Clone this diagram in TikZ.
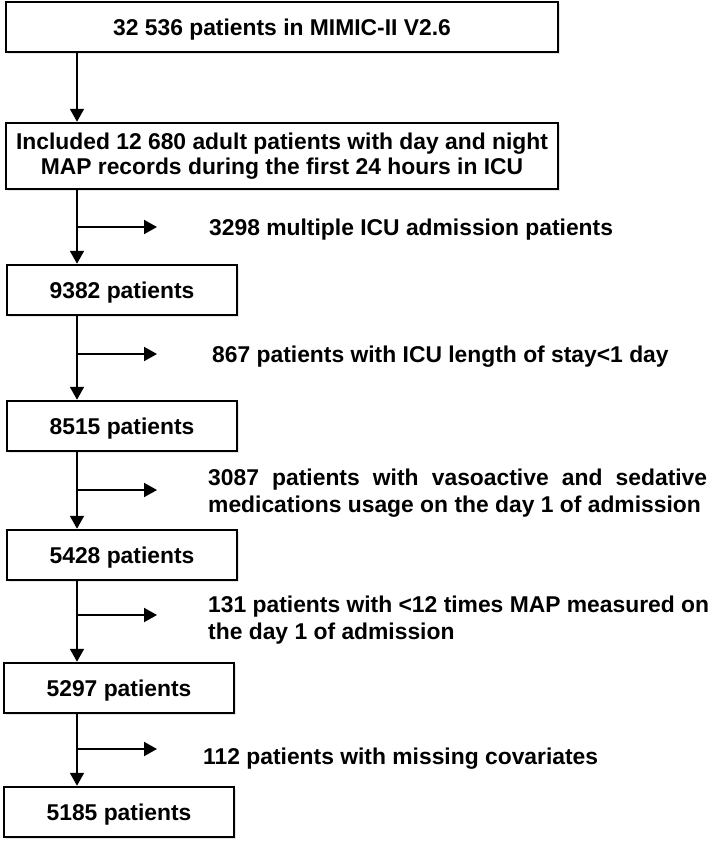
\documentclass[tikz,border=0pt]{standalone}
\usepackage{fontspec}
\setmainfont{Liberation Sans}
\usetikzlibrary{positioning, arrows.meta, shadows}

\begin{document}
\begin{tikzpicture}
        [
            x=1pt, y=-1pt,
            every node/.style={font=\fontsize{22.85}{26.5}\selectfont\bfseries},
            frame/.style={draw, fill=white, line width=2.5pt, inner sep=0pt,
                minimum width=230pt, minimum height=50pt,
                drop shadow={shadow xshift=2pt, shadow yshift=-2pt, opacity=0.2}},
            box/.style={frame, text height=16.4pt, text depth=0pt},
            wide box/.style={box, minimum width=552pt},
            note/.style={anchor=west, align=left, inner sep=0pt},
            flow/.style={line width=2pt, -{Triangle[length=13pt, width=14pt]}},
        ]
        \useasboundingbox (0,0) rectangle (709,847);
        % boxes
        \node[wide box] (all) at (282,27) {32 536 patients in MIMIC-II V2.6};
        \node[frame, minimum width=552pt, minimum height=66pt, align=center] (incl) at (282,156)
            {\raisebox{-2pt}{Included 12 680 adult patients with day and night}\\MAP records during the first 24 hours in ICU};
        \node[box] (p9382) at (122,290) {9382 patients};
        \node[box] (p8515) at (122,426) {8515 patients};
        \node[box] (p5428) at (122,555) {5428 patients};
        \node[box] (p5297) at (119,688) {5297 patients};
        \node[box] (p5185) at (119,812) {5185 patients};
        % exclusions
        \node[note] (x3298) at (209,230) {3298 multiple ICU admission patients};
        \node[note] (x867) at (212,357) {867 patients with ICU length of stay<1 day};
        \node[note] (x3087) at (208,493)
            {\makebox[499pt][s]{3087 patients with vasoactive and sedative}\\medications usage on the day 1 of admission};
        \node[note] (x131) at (208,620)
            {131 patients with <12 times MAP measured on\\the day 1 of admission};
        \node[note] (x112) at (203,759) {112 patients with missing covariates};
        % spine and branch points
        \coordinate (spine) at (77,0);
        \coordinate (e1) at (157,227);
        \coordinate (e2) at (157,354);
        \coordinate (e3) at (157,490);
        \coordinate (e4) at (157,615);
        \coordinate (e5) at (157,749);
        % main flow
        \draw[flow] (all.south -| spine) -- (incl.north -| spine);
        \draw[flow] (incl.south -| spine) -- (p9382.north -| spine);
        \draw[flow] (p9382.south -| spine) -- (p8515.north -| spine);
        \draw[flow] (p8515.south -| spine) -- (p5428.north -| spine);
        \draw[flow] (p5428.south -| spine) -- (p5297.north -| spine);
        \draw[flow] (p5297.south -| spine) -- (p5185.north -| spine);
        % side arrows
        \foreach \e in {e1,e2,e3,e4,e5}
            \draw[flow] (spine |- \e) -- (\e);
    \end{tikzpicture}
\end{document}
